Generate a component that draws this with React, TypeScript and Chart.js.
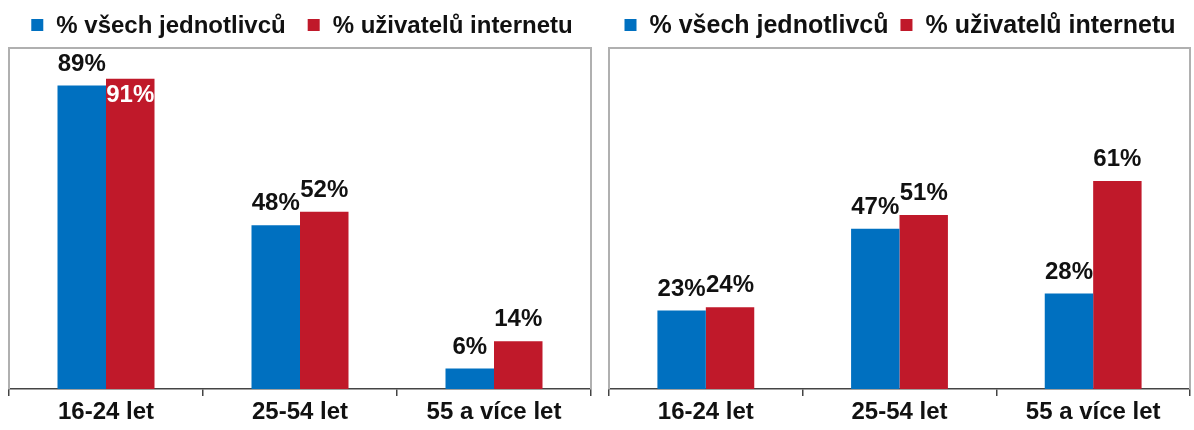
import React, { useEffect, useRef } from "react";
import { Chart, registerables } from "chart.js";

Chart.register(...registerables);

const categories = ["16-24 let", "25-54 let", "55 a více let"];
const seriesNames = ["% všech jednotlivců", "% uživatelů internetu"];
const leftAll = [89, 48, 6];
const leftUsers = [91, 52, 14];
const rightAll = [23, 47, 28];
const rightUsers = [24, 51, 61];
const seriesColors = ["#0070C0", "#C0192A"];
const FONT = "'Liberation Sans', Arial, sans-serif";

const legendPlugin = {
  id: "customLegend",
  afterDraw(chart: any, _args: any, opts: any) {
    const ctx = chart.ctx;
    ctx.save();
    const size = opts.size ?? 24;
    ctx.font = `bold ${size}px ${FONT}`;
    const box = 12;
    const boxGap = 13;
    const gap = opts.gap ?? 20;
    const items = chart.data.datasets.map((d: any) => ({
      label: d.label,
      color: d.backgroundColor,
      w: ctx.measureText(d.label).width,
    }));
    const total =
      items.reduce((s: number, it: any) => s + box + boxGap + it.w, 0) +
      gap * (items.length - 1);
    let x = (chart.width - total) / 2 + (opts.shift ?? 0);
    items.forEach((it: any) => {
      ctx.fillStyle = it.color;
      ctx.fillRect(x, 19, box, box);
      x += box + boxGap;
      ctx.fillStyle = "#111";
      ctx.textAlign = "left";
      ctx.textBaseline = "alphabetic";
      ctx.fillText(it.label, x, 33);
      x += it.w + gap;
    });
    ctx.restore();
  },
};

const boxPlugin = {
  id: "plotBox",
  beforeDatasetsDraw(chart: any) {
    const { ctx, chartArea } = chart;
    ctx.save();
    ctx.strokeStyle = "#b0b0b0";
    ctx.lineWidth = 2;
    ctx.beginPath();
    ctx.moveTo(chartArea.left, chartArea.bottom);
    ctx.lineTo(chartArea.left, chartArea.top);
    ctx.lineTo(chartArea.right, chartArea.top);
    ctx.lineTo(chartArea.right, chartArea.bottom);
    ctx.stroke();
    ctx.restore();
  },
};

const labelPlugin = {
  id: "valueLabels",
  afterDatasetsDraw(chart: any) {
    const { ctx, chartArea } = chart;
    ctx.save();
    ctx.font = `bold 24px ${FONT}`;
    ctx.textAlign = "center";
    ctx.textBaseline = "alphabetic";
    chart.data.datasets.forEach((ds: any, di: number) => {
      const meta = chart.getDatasetMeta(di);
      meta.data.forEach((el: any, i: number) => {
        const text = `${ds.data[i]}%`;
        if (el.y - 34 < chartArea.top) {
          ctx.fillStyle = "#ffffff";
          ctx.fillText(text, el.x, el.y + 23);
        } else {
          ctx.fillStyle = "#111";
          ctx.fillText(text, el.x, el.y - 15);
        }
      });
    });
    ctx.restore();
  },
};

function BarChart(props: {
  all: number[];
  users: number[];
  width: number;
  padLeft: number;
  padRight: number;
  gap: number;
  shift: number;
  legendSize: number;
}) {
  const ref = useRef<HTMLCanvasElement>(null);
  useEffect(() => {
    const chart = new Chart(ref.current as HTMLCanvasElement, {
      type: "bar",
      data: {
        labels: categories,
        datasets: [
          {
            label: seriesNames[0],
            data: props.all,
            backgroundColor: seriesColors[0],
            categoryPercentage: 0.5,
            barPercentage: 1,
          },
          {
            label: seriesNames[1],
            data: props.users,
            backgroundColor: seriesColors[1],
            categoryPercentage: 0.5,
            barPercentage: 1,
          },
        ],
      },
      options: {
        responsive: false,
        animation: false,
        layout: {
          padding: { top: 48, left: props.padLeft, right: props.padRight, bottom: 0 },
        },
        plugins: {
          legend: { display: false },
          tooltip: { enabled: false },
          customLegend: { gap: props.gap, shift: props.shift, size: props.legendSize },
        } as any,
        scales: {
          x: {
            offset: true,
            grid: {
              offset: true,
              drawOnChartArea: false,
              drawTicks: true,
              tickLength: 7,
              color: "#444",
              lineWidth: 1.5,
            },
            border: { display: true, color: "#444", width: 1.5 },
            ticks: {
              color: "#111",
              font: { family: FONT, size: 24, weight: "bold" },
              padding: 2,
              maxRotation: 0,
            },
            afterFit: (s: any) => {
              s.height = 41;
            },
          },
          y: { display: false, min: 0, max: 100 },
        },
      },
      plugins: [boxPlugin, labelPlugin, legendPlugin],
    });
    return () => chart.destroy();
  }, []);
  return (
    <canvas
      ref={ref}
      width={props.width}
      height={430}
      style={{ display: "block", width: props.width, height: 430 }}
    />
  );
}

export default function App() {
  return (
    <div
      style={{
        position: "absolute",
        left: 0,
        top: 0,
        width: 1194,
        height: 430,
        background: "#fff",
      }}
    >
      <div style={{ position: "absolute", left: 0, top: 0 }}>
        <BarChart
          all={leftAll}
          users={leftUsers}
          width={600}
          padLeft={9}
          padRight={9}
          gap={22}
          shift={2}
          legendSize={24}
        />
      </div>
      <div style={{ position: "absolute", left: 600, top: 0 }}>
        <BarChart
          all={rightAll}
          users={rightUsers}
          width={594}
          padLeft={9}
          padRight={4}
          gap={12}
          shift={3}
          legendSize={25}
        />
      </div>
    </div>
  );
}
